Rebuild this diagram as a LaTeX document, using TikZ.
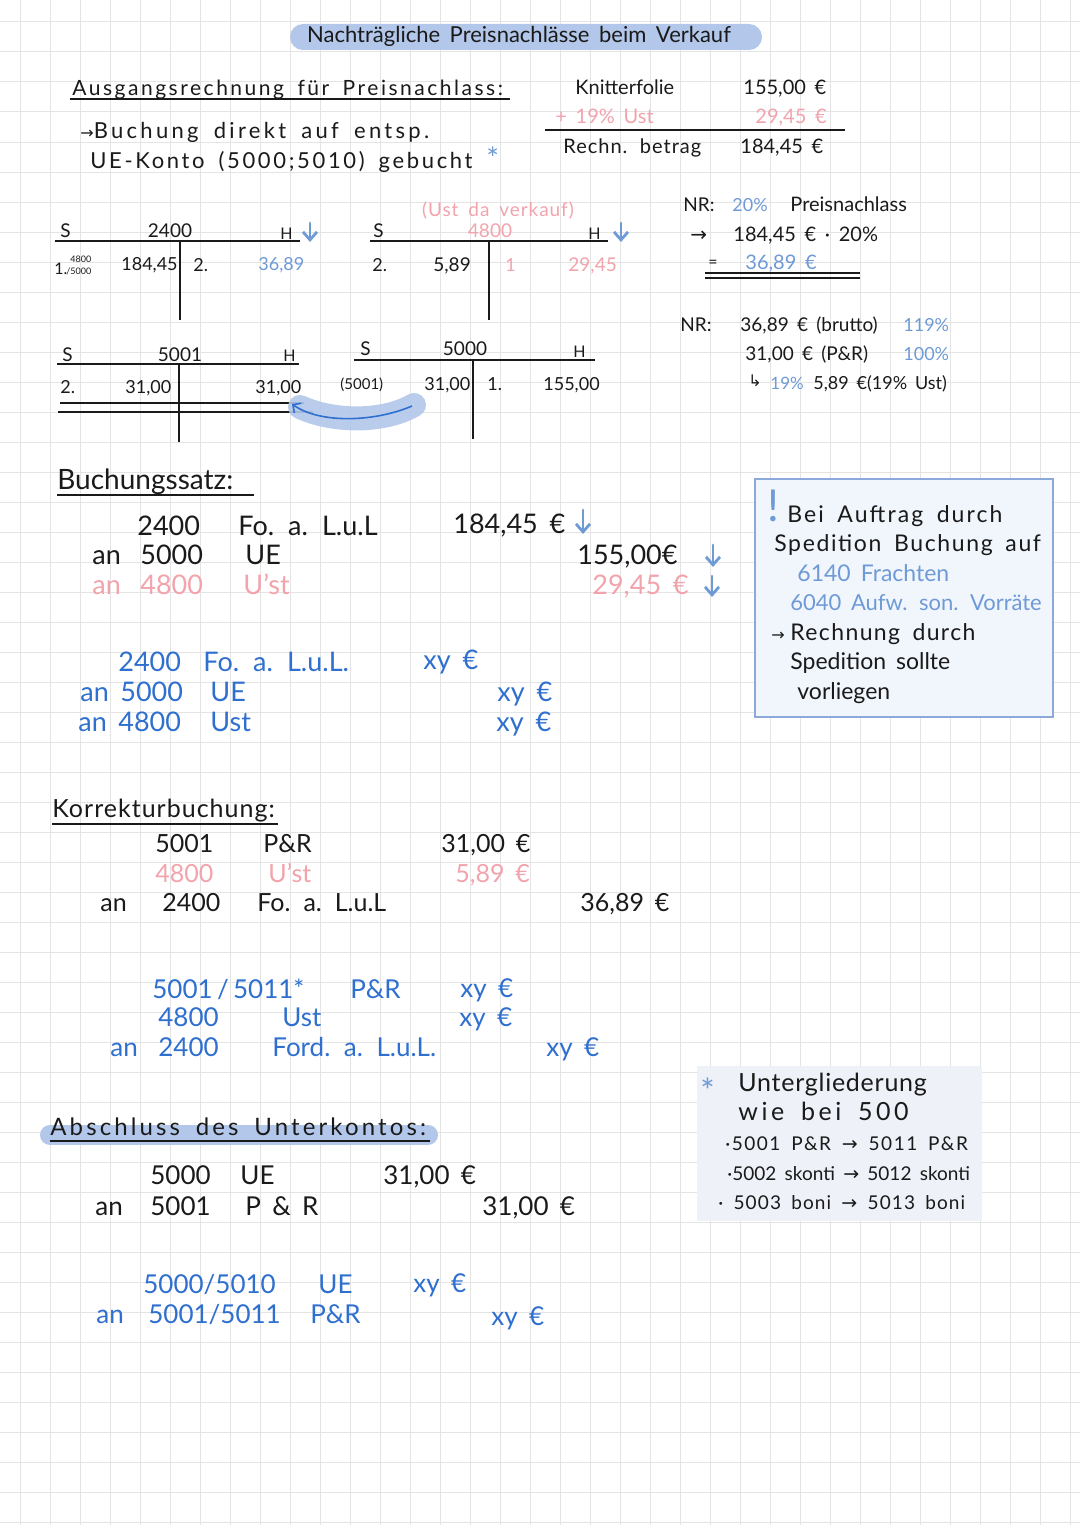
\documentclass[tikz,border=0pt]{standalone}
\usepackage{fontspec}
\setmainfont{Lato}[WordSpace=1.7]
\newfontfamily\symfont{DejaVu Sans}
\usetikzlibrary{arrows.meta}

\definecolor{gridc}{HTML}{E4E4E4}
\definecolor{inkc}{HTML}{1A1A1A}
\definecolor{pinkc}{HTML}{F2A3AC}
\definecolor{lblue}{HTML}{6E9AD6}
\definecolor{dblue}{HTML}{2E6FCF}
\definecolor{hlblue}{HTML}{B3C7EA}
\definecolor{boxfill}{HTML}{F1F5FC}
\definecolor{boxline}{HTML}{8BAADB}
\definecolor{notefill}{HTML}{EEF1F7}

\begin{document}
\begin{tikzpicture}[x=0.5pt, y=-0.5pt,
    txt/.style={anchor=mid west, inner sep=0pt, text=inkc},
    mtxt/.style={anchor=mid, inner sep=0pt, text=inkc},
    sz/.style={font=\fontsize{#1}{#1}\selectfont},
    wide/.style={execute at begin node={\addfontfeatures{LetterSpace=#1}}},
    pk/.style={text=pinkc},
    lb/.style={text=lblue},
    db/.style={text=dblue},
    tline/.style={inkc, line width=1pt},
    uline/.style={inkc, line width=0.8pt},
    downarr/.style={-{Straight Barb[length=4pt, width=7pt]}, lblue, line width=1.4pt, line cap=round}
]
\useasboundingbox (0,0) rectangle (1080,1525);
\fill[white] (0,0) rectangle (1080,1525);

% squared paper
\foreach \gx in {20,50,...,1070} \draw[gridc, line width=0.5pt] (\gx,0) -- (\gx,1525);
\foreach \gy in {22,52,...,1522} \draw[gridc, line width=0.5pt] (0,\gy) -- (1080,\gy);

% Title
\fill[hlblue, rounded corners=6.5pt] (290,24) rectangle (762,50);
\node[mtxt, sz=11] (title) at (519,37) {Nachträgliche Preisnachlässe beim Verkauf};

% Ausgangsrechnung
\node[txt, sz=10.5, wide=12] (ausg) at (72,90) {Ausgangsrechnung für Preisnachlass:};
\draw[uline] (70,99) -- (510,99);
\node[txt, sz=11, wide=15] (buch1) at (80,133) {{\symfont\fontsize{8}{8}\selectfont →}Buchung direkt auf entsp.};
\node[txt, sz=11, wide=12] (buch2) at (90,163) {UE-Konto (5000;5010) gebucht};
\node[txt, lb, sz=15] (star1) at (486,164) {*};

% Rechnung
\node[txt, sz=10] (knit) at (575,89) {Knitterfolie};
\node[txt, sz=10] (knitv) at (743,89) {155,00 €};
\node[txt, pk, sz=10] (ust) at (555,118) {+ 19\% Ust};
\node[txt, pk, sz=10] (ustv) at (755,118) {29,45 €};
\draw[tline] (545,130) -- (845,130);
\node[txt, sz=10, wide=5] (rech) at (563,148) {Rechn. betrag};
\node[txt, sz=10] (rechv) at (740,148) {184,45 €};

% T-Konto 2400
\draw[tline] (55,241) -- (300,241);
\draw[tline] (180,241) -- (180,320);
\node[txt, sz=9.5] (sa) at (60,232) {S};
\node[mtxt, sz=9.5] (ka) at (170,232) {2400};
\node[txt, sz=8] (ha) at (280,234) {H};
\draw[downarr] (310,223) -- (310,242);
\node[txt, sz=8] (na) at (54,269) {1.};
\node[txt, sz=4.5] (na1) at (70,257) {4800};
\node[txt, sz=4.5] (na2) at (66,269) {/5000};
\node[txt, sz=9] (va1) at (121,265) {184,45};
\node[txt, sz=9] (nb) at (193,266) {2.};
\node[txt, lb, sz=9] (va2) at (258,265) {36,89};

% T-Konto 4800
\node[mtxt, pk, sz=9.5, wide=5] (ustda) at (498,211) {(Ust da verkauf)};
\draw[tline] (370,241) -- (608,241);
\draw[tline] (489,241) -- (489,320);
\node[txt, sz=9.5] (sb) at (373,232) {S};
\node[mtxt, pk, sz=9.5] (kb) at (490,232) {4800};
\node[txt, sz=8] (hb) at (588,234) {H};
\draw[downarr] (621,223) -- (621,242);
\node[txt, sz=9] (nc) at (372,266) {2.};
\node[txt, sz=9.5] (vb1) at (433,266) {5,89};
\node[txt, pk, sz=9] (nd) at (505,266) {1};
\node[txt, pk, sz=9.5] (vb2) at (568,266) {29,45};

% T-Konto 5001
\draw[tline] (57,364) -- (299,364);
\draw[tline] (179,364) -- (179,442);
\node[txt, sz=9.5] (sc) at (62,356) {S};
\node[mtxt, sz=9.5] (kc) at (180,356) {5001};
\node[txt, sz=8] (hc) at (283,356) {H};
\node[txt, sz=9] (ne) at (60,388) {2.};
\node[txt, sz=9] (vc1) at (125,388) {31,00};
\node[txt, sz=9] (vc2) at (255,388) {31,00};
\draw[tline] (60,403) -- (304,403);
\draw[tline] (58,412) -- (313,412);

% Umbuchung 5001 <- 5000
\draw[hlblue, line width=12pt, line cap=round, opacity=0.9] (300,407) .. controls (335,423) and (385,422) .. (414,405);
\coordinate (umfrom) at (412,406);
\coordinate (umto) at (292,404);
\draw[dblue, line width=0.8pt, -{Straight Barb[length=3pt]}] (umfrom) .. controls (375,422) and (320,424) .. (umto);

% T-Konto 5000
\draw[tline] (354,360) -- (595,360);
\draw[tline] (473,360) -- (473,439);
\node[txt, sz=9.5] (sd) at (360,350) {S};
\node[mtxt, sz=9.5] (kd) at (465,350) {5000};
\node[txt, sz=8] (hd) at (573,352) {H};
\node[txt, sz=7.5] (vd0) at (340,384) {(5001)};
\node[txt, sz=9] (vd1) at (424,385) {31,00};
\node[txt, sz=9] (nf) at (487,385) {1.};
\node[txt, sz=9] (vd2) at (543,385) {155,00};

% Nebenrechnungen
\node[txt, sz=9.5] (nr1) at (683,206) {NR:};
\node[txt, lb, sz=9] (nr1p) at (732,206) {20\%};
\node[txt, sz=10] (nr1t) at (790,206) {Preisnachlass};
\node[txt, sz=10] (nr2a) at (690,236) {{\symfont →}};
\node[txt, sz=10] (nr2) at (733,236) {184,45 € · 20\%};
\node[txt, sz=8] (nr3a) at (708,262) {=};
\node[txt, lb, sz=10] (nr3) at (745,264) {36,89 €};
\draw[tline] (705,273) -- (860,273);
\draw[tline] (705,278) -- (860,278);
\node[txt, sz=9.5] (nr4) at (680,326) {NR:};
\node[txt, sz=9.5] (nr4t) at (740,326) {36,89 € (brutto)};
\node[txt, lb, sz=9] (nr4p) at (903,326) {119\%};
\node[txt, sz=9.5] (nr5t) at (745,355) {31,00 € (P\&R)};
\node[txt, lb, sz=9] (nr5p) at (903,355) {100\%};
\node[txt, sz=8] (nr6a) at (748,381) {{\symfont ↳}};
\node[txt, lb, sz=8.5] (nr6p) at (770,384) {19\%};
\node[txt, sz=9] (nr6t) at (813,384) {5,89 €(19\% Ust)};

% Buchungssatz
\node[txt, sz=14] (bsh) at (57,484) {Buchungssatz:};
\draw[uline] (57,495) -- (254,495);
\node[txt, sz=13.5] (bs1a) at (137,530) {2400};
\node[txt, sz=13.5] (bs1b) at (238,530) {Fo. a. L.u.L};
\node[txt, sz=13.5] (bs1c) at (453,528) {184,45 €};
\draw[downarr] (583,510) -- (583,534);
\node[txt, sz=13.5] (bs2o) at (92,559) {an};
\node[txt, sz=13.5] (bs2a) at (140,559) {5000};
\node[txt, sz=13.5] (bs2b) at (245,559) {UE};
\node[txt, sz=13.5] (bs2c) at (577,559) {155,00€};
\draw[downarr] (713,545) -- (713,567);
\node[txt, pk, sz=13.5] (bs3o) at (92,589) {an};
\node[txt, pk, sz=13.5] (bs3a) at (140,589) {4800};
\node[txt, pk, sz=13.5] (bs3b) at (243,589) {U'st};
\node[txt, pk, sz=13.5] (bs3c) at (592,589) {29,45 €};
\draw[downarr] (712,576) -- (712,597);

% Buchungssatz allgemein
\node[txt, db, sz=13.5] (ba1a) at (118,666) {2400};
\node[txt, db, sz=13.5] (ba1b) at (203,666) {Fo. a. L.u.L.};
\node[txt, db, sz=13.5] (ba1c) at (423,664) {xy €};
\node[txt, db, sz=13.5] (ba2o) at (80,696) {an};
\node[txt, db, sz=13.5] (ba2a) at (120,696) {5000};
\node[txt, db, sz=13.5] (ba2b) at (210,696) {UE};
\node[txt, db, sz=13.5] (ba2c) at (497,696) {xy €};
\node[txt, db, sz=13.5] (ba3o) at (78,726) {an};
\node[txt, db, sz=13.5] (ba3a) at (118,726) {4800};
\node[txt, db, sz=13.5] (ba3b) at (210,726) {Ust};
\node[txt, db, sz=13.5] (ba3c) at (496,726) {xy €};

% Hinweis Spedition
\filldraw[fill=boxfill, draw=boxline, line width=1pt] (755,479) rectangle (1053,717);
\node[mtxt, lb, sz=22] (warn) at (773,516) {!};
\node[txt, sz=11.5, wide=9] (sp1) at (787,517) {Bei Auftrag durch};
\node[txt, sz=11.5, wide=7] (sp2) at (774,546) {Spedition Buchung auf};
\node[txt, lb, sz=11.5] (sp3) at (797,576) {6140 Frachten};
\node[txt, lb, sz=11] (sp4) at (790,605) {6040 Aufw. son. Vorräte};
\node[txt, sz=8] (sp5a) at (771,635) {{\symfont →}};
\node[txt, sz=11.5, wide=6] (sp5) at (790,635) {Rechnung durch};
\node[txt, sz=11.5] (sp6) at (790,664) {Spedition sollte};
\node[txt, sz=11.5] (sp7) at (797,694) {vorliegen};

% Korrekturbuchung
\node[txt, sz=12.5, wide=4] (kbh) at (52,812) {Korrekturbuchung:};
\draw[uline] (52,824) -- (278,824);
\node[txt, sz=12.5] (kb1a) at (155,847) {5001};
\node[txt, sz=12.5] (kb1b) at (263,847) {P\&R};
\node[txt, sz=12.5] (kb1c) at (441,847) {31,00 €};
\node[txt, pk, sz=12.5] (kb2a) at (155,877) {4800};
\node[txt, pk, sz=12.5] (kb2b) at (268,877) {U'st};
\node[txt, pk, sz=12.5] (kb2c) at (455,877) {5,89 €};
\node[txt, sz=12.5] (kb3o) at (100,906) {an};
\node[txt, sz=12.5] (kb3a) at (162,906) {2400};
\node[txt, sz=12.5] (kb3b) at (257,906) {Fo. a. L.u.L};
\node[txt, sz=12.5] (kb3c) at (580,906) {36,89 €};

% Korrekturbuchung allgemein
\node[txt, db, sz=13] (ka1a) at (152,993) {5001\,/\,5011*};
\node[txt, db, sz=13] (ka1b) at (350,993) {P\&R};
\node[txt, db, sz=13] (ka1c) at (460,992) {xy €};
\node[txt, db, sz=13] (ka2a) at (158,1021) {4800};
\node[txt, db, sz=13] (ka2b) at (282,1021) {Ust};
\node[txt, db, sz=13] (ka2c) at (459,1021) {xy €};
\node[txt, db, sz=13] (ka3o) at (110,1051) {an};
\node[txt, db, sz=13] (ka3a) at (158,1051) {2400};
\node[txt, db, sz=13] (ka3b) at (272,1051) {Ford. a. L.u.L.};
\node[txt, db, sz=13] (ka3c) at (546,1051) {xy €};

% Abschluss des Unterkontos
\draw[hlblue, line width=10pt, line cap=round] (50,1135) -- (428,1135);
\node[txt, sz=12, wide=13] (abh) at (50,1130) {Abschluss des Unterkontos:};
\draw[uline] (50,1141) -- (430,1141);
\node[txt, sz=13] (ab1a) at (150,1179) {5000};
\node[txt, sz=13] (ab1b) at (240,1179) {UE};
\node[txt, sz=13] (ab1c) at (383,1179) {31,00 €};
\node[txt, sz=13] (ab2o) at (95,1210) {an};
\node[txt, sz=13] (ab2a) at (150,1210) {5001};
\node[txt, sz=13] (ab2b) at (245,1210) {P \& R};
\node[txt, sz=13] (ab2c) at (482,1210) {31,00 €};
\node[txt, db, sz=13] (aa1a) at (143,1288) {5000/5010};
\node[txt, db, sz=13] (aa1b) at (318,1288) {UE};
\node[txt, db, sz=13] (aa1c) at (413,1287) {xy €};
\node[txt, db, sz=13] (aa2o) at (96,1318) {an};
\node[txt, db, sz=13] (aa2a) at (148,1318) {5001/5011};
\node[txt, db, sz=13] (aa2b) at (310,1318) {P\&R};
\node[txt, db, sz=13] (aa2c) at (491,1320) {xy €};

% Untergliederung
\fill[notefill] (697,1066) rectangle (982,1221);
\node[txt, lb, sz=17] (ustar) at (700,1098) {*};
\node[txt, sz=12.5, wide=3] (ug1) at (738,1086) {Untergliederung};
\node[txt, sz=12.5, wide=14] (ug2) at (738,1115) {wie bei 500};
\node[txt, sz=9.5, wide=8] (ug3) at (725,1145) {·5001 P\&R {\symfont →} 5011 P\&R};
\node[txt, sz=9.5] (ug4) at (727,1175) {·5002 skonti {\symfont →} 5012 skonti};
\node[txt, sz=9.5, wide=6] (ug5) at (718,1204) {· 5003 boni {\symfont →} 5013 boni};
\end{tikzpicture}
\end{document}
